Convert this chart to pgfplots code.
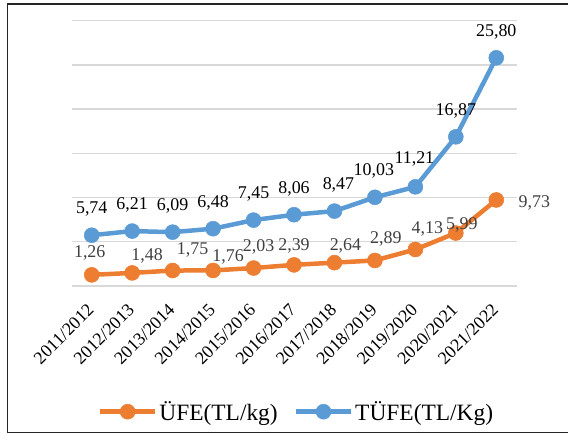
\documentclass[border=0pt]{standalone}
\usepackage{pgfplots}
\pgfplotsset{compat=1.18}
\usepackage{pgfplotstable}
\usepackage{fontspec}
\setmainfont{Liberation Serif}
\definecolor{ufe}{HTML}{ED7D31}
\definecolor{tufe}{HTML}{5B9BD5}
\definecolor{gridc}{HTML}{D9D9D9}
\definecolor{labgray}{HTML}{404040}

\pgfplotstableread{
x y dx dy
0 1.26 -2 17
1 1.48 15 12
2 1.75 20 16.5
3 1.76 15 9
4 2.03 5 17
5 2.39 0 14
6 2.64 11 12
7 2.89 11 17
8 4.13 12 16
9 5.99 6 4
10 9.73 38 -8
}\ufetable

\pgfplotstableread{
x y dx dy
0 5.74 0 21.5
1 6.21 0 21.5
2 6.09 0 21.5
3 6.48 0 21.5
4 7.45 0 21.5
5 8.06 0 21.5
6 8.47 4 21.5
7 10.03 -1 21.5
8 11.21 -1 23
9 16.87 0 21.5
10 25.80 0 21.5
}\tufetable

\begin{document}
\begin{tikzpicture}
\useasboundingbox (0,0) rectangle (568bp,434bp);
\draw[line width=1.2bp, black!85] (568bp,430bp) -- (7.3bp,430bp) -- (7.3bp,1.8bp) -- (568bp,1.8bp);
\begin{axis}[
  at={(71.5bp,148bp)}, anchor=south west,
  scale only axis, width=445bp, height=265.3bp,
  xmin=-0.5, xmax=10.5, ymin=0, ymax=30,
  clip=false,
  axis line style={draw=none},
  major tick length=0pt,
  ytick={0,5,...,30}, yticklabels={},
  ymajorgrids, major grid style={gridc, line width=1.4bp},
  xtick={0,...,10},
  xticklabels={2011/2012,2012/2013,2013/2014,2014/2015,2015/2016,2016/2017,2017/2018,2018/2019,2019/2020,2020/2021,2021/2022},
  xticklabel style={yshift=-21bp, xshift=-1bp, rotate=45, anchor=east, inner sep=0pt, font=\fontsize{18}{21}\selectfont},
  /pgf/number format/.cd, fixed, fixed zerofill, precision=2, use comma, assume math mode=true,
  /pgfplots/.cd,
  legend columns=2,
  legend style={at={(0.5056,-0.4738)}, anchor=center, draw=none, fill=none,
    font=\fontsize{23.5}{27}\selectfont,
    nodes={inner sep=2bp},
    /tikz/every even column/.append style={column sep=14bp}},
  legend image code/.code={\draw[mark repeat=2,mark phase=2,#1] plot coordinates {(0bp,0bp) (27.5bp,0bp) (55bp,0bp)};},
]
\addplot[ufe, line width=4.5bp, mark=*, mark size=7.5bp, mark options={fill=ufe, draw=ufe, line width=0.5bp},
  visualization depends on={\thisrow{dx}\as\labdx},
  visualization depends on={\thisrow{dy}\as\labdy},
  nodes near coords,
  every node near coord/.append style={anchor=base, inner sep=0pt, xshift=\labdx bp, yshift=\labdy bp, text=labgray, font=\fontsize{18}{21}\selectfont}
] table[x=x, y=y, meta=y] {\ufetable};
\addlegendentry{ÜFE(TL/kg)}
\addplot[tufe, line width=4.5bp, mark=*, mark size=7.5bp, mark options={fill=tufe, draw=tufe, line width=0.5bp},
  visualization depends on={\thisrow{dx}\as\labdx},
  visualization depends on={\thisrow{dy}\as\labdy},
  nodes near coords,
  every node near coord/.append style={anchor=base, inner sep=0pt, xshift=\labdx bp, yshift=\labdy bp, text=black, font=\fontsize{18}{21}\selectfont}
] table[x=x, y=y, meta=y] {\tufetable};
\addlegendentry{TÜFE(TL/Kg)}
\end{axis}
\end{tikzpicture}
\end{document}
